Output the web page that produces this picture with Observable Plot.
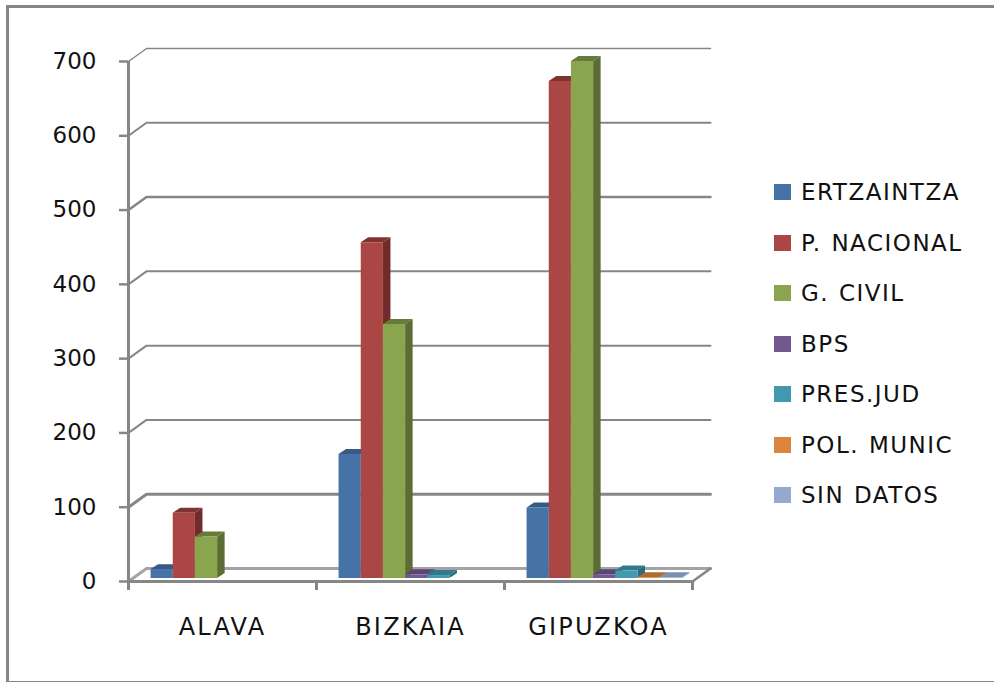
<!DOCTYPE html>
<html><head><meta charset="utf-8">
<script src="https://cdn.jsdelivr.net/npm/d3@7"></script>
<script src="https://cdn.jsdelivr.net/npm/@observablehq/plot@0.6"></script>
<style>
html,body{margin:0;padding:0;background:#fff}
#wrap{position:relative;width:994px;height:682px;overflow:hidden}
#wrap svg{position:absolute;left:0;top:0;background:transparent}
g[aria-label="y-axis tick label"] text{letter-spacing:0}
g[aria-label="x-axis tick label"] text{letter-spacing:2.2px}
#frame{position:absolute;left:6px;top:5px;width:1000px;height:673px;border:3px solid #868686}
#legend{position:absolute;left:774px;top:167px;font:23px "DejaVu Sans",sans-serif;color:#111;letter-spacing:1.5px;word-spacing:1px}
#legend div{height:50.5px;display:flex;align-items:center;white-space:nowrap}
#legend i{display:block;width:17px;height:16px;margin-right:10px}
</style></head>
<body><div id="wrap"><div id="frame"></div><div id="legend"></div></div>
<script>
const categories = ["ALAVA", "BIZKAIA", "GIPUZKOA"];
const series = ["ERTZAINTZA", "P. NACIONAL", "G. CIVIL", "BPS", "PRES.JUD", "POL. MUNIC", "SIN DATOS"];
const ertzaintza = [12, 167, 95];
const pNacional = [88, 452, 669];
const gCivil = [56, 342, 696];
const bps = [0, 5, 5];
const presJud = [0, 4, 10];
const polMunic = [0, 0, 1];
const sinDatos = [0, 0, 1];
const seriesValues = [ertzaintza, pNacional, gCivil, bps, presJud, polMunic, sinDatos];
const yTicks = [0, 100, 200, 300, 400, 500, 600, 700];

const frontColors = ["#4572A7", "#AA4643", "#89A54E", "#71588F", "#4198AF", "#DB843D", "#93A9CF"];
const topColors   = ["#355A85", "#7F3431", "#667A3A", "#5A4672", "#2F7A8E", "#B16A2F", "#7A90B4"];
const sideColors  = ["#2E4D72", "#6F2C2A", "#5B6C34", "#4B3A60", "#2B6A7A", "#945826", "#66799A"];
const gridWeights = {0: 3, 100: 3, 200: 2, 300: 2, 400: 2, 500: 2.5, 600: 2, 700: 1.5};
const gray = "#868686";

// Depth of the box and of each bar, in scale units
const wallX = 0.0957, wallY = 17.5;
const barX = 0.04, barY = 6.7;
const barStart = 0.12, barW = 0.118, barBase = 4;

const faces = [];
categories.forEach((c, ci) => {
  series.forEach((s, si) => {
    const v = seriesValues[si][ci];
    if (!v) return;
    const l = ci + barStart + si * barW, r = l + barW;
    const b = barBase, t = barBase + v;
    const add = (kind, fill, a, z) => {
      faces.push({z: `${c}-${s}-${kind}`, fill, x1: a[0], y1: a[1], x2: a[2], y2: a[3]});
      faces.push({z: `${c}-${s}-${kind}`, fill, x1: z[0], y1: z[1], x2: z[2], y2: z[3]});
    };
    add("side", sideColors[si], [r, b, r, t], [r + barX, b + barY, r + barX, t + barY]);
    add("top", topColors[si], [l, t, l + barX, t + barY], [r, t, r + barX, t + barY]);
    add("front", frontColors[si], [l, b, l, t], [r, b, r, t]);
  });
});

const gridRows = yTicks.flatMap(v => [
  {v, x: 0, y: v},
  {v, x: wallX, y: v + wallY},
  {v, x: 3 + wallX, y: v + wallY}
]);

const chart = Plot.plot({
  width: 994, height: 682,
  marginLeft: 128, marginRight: 302, marginTop: 61, marginBottom: 101,
  x: {domain: [0, 3], label: null},
  y: {domain: [0, 700], label: null},
  color: {type: "identity"},
  style: {fontFamily: "DejaVu Sans", color: "#111"},
  marks: [
    Plot.line(gridRows, {x: "x", y: "y", z: "v", stroke: d => d.v === 0 ? "#a3a3a3" : gray, strokeWidth: d => gridWeights[d.v], strokeLinejoin: "miter"}),
    Plot.line([{x: 3, y: 0}, {x: 3 + wallX, y: wallY}], {x: "x", y: "y", stroke: gray, strokeWidth: 2.5}),
    Plot.ruleX([0], {y1: 0, y2: 700, stroke: gray, strokeWidth: 3}),
    Plot.ruleY([0], {x1: 0, x2: 3, stroke: gray, strokeWidth: 3}),
    Plot.axisY({ticks: yTicks, tickSize: 9, tickPadding: 23, fontSize: 23, stroke: gray, strokeWidth: 2.5, strokeOpacity: 1, label: null, fill: "#111", tickFormat: d => d}),
    Plot.axisX({ticks: [0, 1, 2, 3], tickSize: 9, tickFormat: () => "", stroke: gray, strokeWidth: 3, strokeOpacity: 1, label: null}),
    Plot.axisX({ticks: [0.5, 1.5, 2.5], tickSize: 0, tickPadding: 36, fontSize: 24, fill: "#111", label: null, tickFormat: d => categories[d - 0.5]}),
    Plot.area(faces, {x1: "x1", y1: "y1", x2: "x2", y2: "y2", z: "z", fill: "fill", curve: "linear"})
  ]
});
document.getElementById("wrap").appendChild(chart);

const legend = document.getElementById("legend");
series.forEach((s, i) => {
  const row = document.createElement("div");
  const sw = document.createElement("i");
  sw.style.background = frontColors[i];
  row.append(sw, document.createTextNode(s));
  legend.append(row);
});
</script></body></html>
